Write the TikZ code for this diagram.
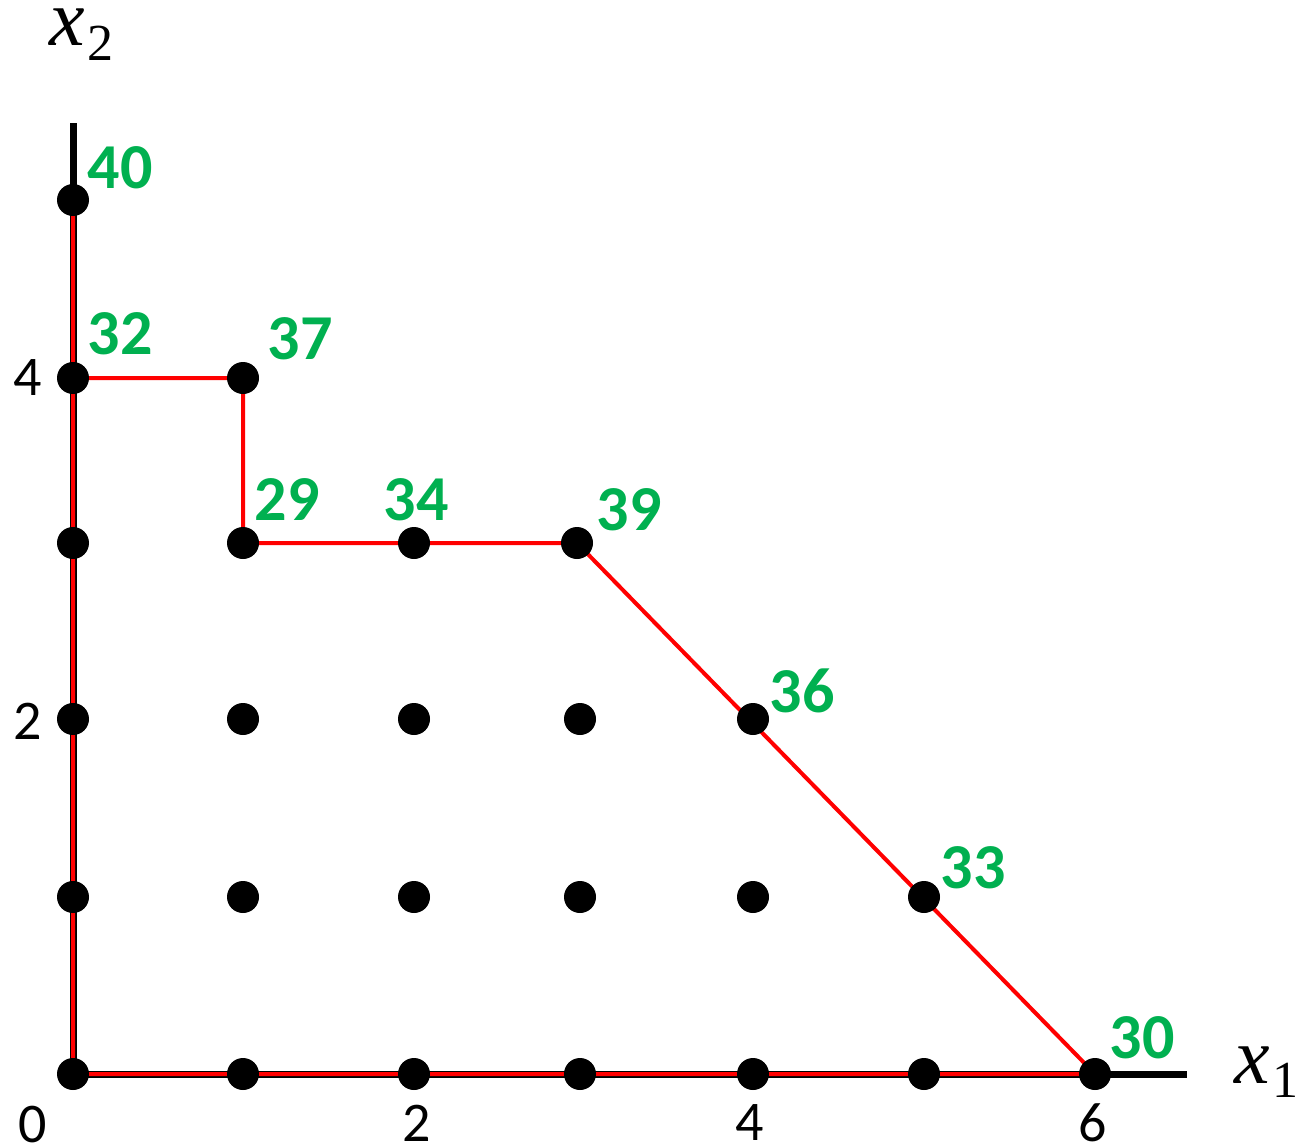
\documentclass[tikz,border=0pt]{standalone}
\usepackage{fontspec}
\setmainfont{Carlito}
\newfontfamily\lserif{Liberation Serif}
\usetikzlibrary{backgrounds}
\definecolor{lblgreen}{HTML}{00B050}
\begin{document}
\begin{tikzpicture}[x=1pt,y=-1pt,
  dot/.style={circle, fill=black, inner sep=0pt, minimum size=32pt},
  axisline/.style={line width=7pt, black},
  redline/.style={line width=4pt, red},
  tick/.style={font=\fontsize{56}{60}\selectfont, inner sep=0pt},
  val/.style={font=\fontsize{64}{70}\selectfont\bfseries, text=lblgreen, inner sep=0pt},
  axlabel/.style={inner sep=0pt, anchor=base west}]
\useasboundingbox (0,0) rectangle (1298,1148);
% lattice points
\foreach \i/\x in {0/73,1/243,2/414,3/580,4/753,5/924,6/1095} \node[dot] (p\i0) at (\x,1074) {};
\foreach \i/\x in {0/73,1/243,2/414,3/580,4/753,5/924} \node[dot] (p\i1) at (\x,897) {};
\foreach \i/\x in {0/73,1/243,2/414,3/580,4/753} \node[dot] (p\i2) at (\x,719) {};
\foreach \i/\x in {0/73,1/243,2/414,3/577} \node[dot] (p\i3) at (\x,543) {};
\foreach \i/\x in {0/73,1/243} \node[dot] (p\i4) at (\x,378) {};
\node[dot] (p05) at (73,200) {};
\coordinate (xend) at (1187,1074);
\coordinate (yend) at (73,123);
\begin{scope}[on background layer]
\draw[axisline] (p00.center) -- (xend);
\draw[axisline] (p00.center) -- (yend);
\draw[redline, line join=round] (p05.center) -- (p00.center) -- (p60.center) -- (p33.center) -- (p13.center) -- (p14.center) -- (p04.center);
\end{scope}
% axis labels
\node[axlabel] (xtwo) at (49,46) {\lserif\fontsize{80}{90}\selectfont\textit{x}\kern3pt\raisebox{-15pt}{\fontsize{52}{60}\selectfont 2}};
\node[axlabel] (xone) at (1234,1083) {\lserif\fontsize{80}{90}\selectfont\textit{x}\kern3pt\raisebox{-14pt}{\fontsize{52}{60}\selectfont 1}};
% tick labels
\node[tick] (t0) at (33,1125) {0};
\node[tick] (tx2) at (417,1123) {2};
\node[tick] (tx4) at (750,1123) {4};
\node[tick] (tx6) at (1093,1123) {6};
\node[tick] (ty2) at (28,721) {2};
\node[tick] (ty4) at (28,378) {4};
% objective values
\node[val] (v40) at (120,168) {40};
\node[val] (v32) at (120,334) {32};
\node[val] (v37) at (300,339) {37};
\node[val] (v29) at (287,500) {29};
\node[val] (v34) at (416,500) {34};
\node[val] (v39) at (629,510) {39};
\node[val] (v36) at (802,691) {36};
\node[val] (v33) at (973,868) {33};
\node[val] (v30) at (1142,1038) {30};
\end{tikzpicture}
\end{document}
